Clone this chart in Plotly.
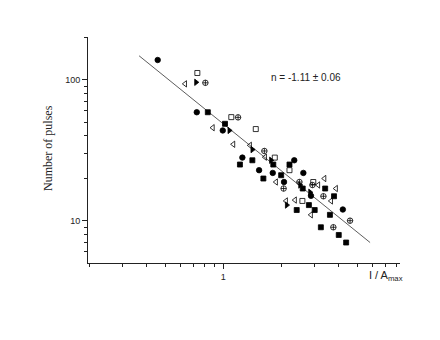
import plotly.graph_objects as go

# ---- data ----
circ_x = [0.455, 0.727, 0.993, 1.256, 2.34, 1.535, 1.808, 2.07, 2.61, 2.86, 4.19]
circ_y = [137.7, 58.7, 43.6, 28.0, 26.8, 22.8, 21.8, 18.8, 21.8, 15.0, 12.0]

sq_x = [0.830, 1.02, 1.22, 1.416, 1.82, 2.21, 1.616, 2.00, 2.59, 3.39, 3.77, 2.41, 2.79, 2.99, 3.59, 3.22, 3.99, 4.36]
sq_y = [58.7, 48.6, 25.0, 26.8, 25.0, 25.0, 19.9, 21.0, 16.9, 16.9, 14.9, 11.9, 12.9, 11.9, 11.0, 8.98, 7.92, 7.0]

osq_x = [0.732, 1.10, 1.475, 1.853, 2.21, 2.94, 2.58]
osq_y = [111.4, 54.2, 44.6, 28.0, 22.8, 18.8, 13.8]

tri_x = [0.632, 0.881, 1.127, 1.377, 1.649, 1.88, 3.36, 3.12, 3.86, 3.64, 2.12, 2.36, 2.86]
tri_y = [93.3, 45.6, 34.8, 34.2, 28.2, 18.8, 19.9, 17.9, 16.9, 13.8, 13.8, 14.0, 11.0]

ftri_x = [0.721, 1.075, 1.416, 1.771, 2.51, 2.83, 2.14]
ftri_y = [95.7, 43.6, 31.9, 26.8, 17.9, 15.9, 12.9]

cc_x = [0.806, 1.193, 1.635, 2.06, 2.49, 2.91, 3.32, 4.57, 3.74]
cc_y = [94.9, 54.0, 31.2, 16.9, 18.8, 17.9, 14.9, 10.0, 8.98]

fit_x = [0.364, 5.81]
fit_y = [147.5, 7.0]

x_major = [1]
x_minor = [0.2, 0.3, 0.4, 0.5, 0.6, 0.7, 0.8, 0.9, 2, 3, 4, 5, 6, 7, 8]
y_major = [10, 100]
y_minor = [6, 7, 8, 9, 20, 30, 40, 50, 60, 70, 80, 90, 200]

fit_label = "n = -1.11 \u00b1 0.06"

# page body has an 8px margin; plot area in screenshot: x 88..400, y 37..263
OFF = 8
L, R, T, B = 88 - OFF, 440 - 400 + OFF, 37 - OFF, 340 - 263 + OFF
PW, PH = 312, 226

fig = go.Figure()
fig.add_trace(go.Scatter(x=fit_x, y=fit_y, mode="lines",
                         line=dict(color="#333333", width=0.8), showlegend=False))

def add(xs, ys, sym, size):
    fig.add_trace(go.Scatter(x=xs, y=ys, mode="markers", showlegend=False,
                             marker=dict(symbol=sym, size=size, color="black",
                                         line=dict(color="black", width=0.8))))

add(circ_x, circ_y, "circle", 5.5)
add(sq_x, sq_y, "square", 5)
add(osq_x, osq_y, "square-open", 5)
add(tri_x, tri_y, "triangle-left-open", 5.5)
add(ftri_x, ftri_y, "triangle-right", 5.5)
add(cc_x, cc_y, "circle-cross-open", 5.5)

axis_common = dict(type="log", showgrid=False, zeroline=False, showline=True,
                   linecolor="#222222", linewidth=1, ticks="outside", ticklen=5,
                   tickwidth=1, tickcolor="#222222",
                   tickfont=dict(family="Liberation Sans, Arial", size=9, color="#222222"))

fig.update_layout(
    width=440, height=340,
    margin=dict(l=L, r=R, t=T, b=B),
    paper_bgcolor="white", plot_bgcolor="white",
    xaxis=dict(axis_common, range=[-0.705, 0.920], tickvals=x_major,
               ticktext=[str(v) for v in x_major],
               minor=dict(tickvals=x_minor, ticks="outside", ticklen=3, tickwidth=1,
                          tickcolor="#222222", showgrid=False)),
    yaxis=dict(axis_common, range=[0.700, 2.302], tickvals=y_major,
               ticktext=[str(v) for v in y_major],
               minor=dict(tickvals=y_minor, ticks="outside", ticklen=3, tickwidth=1,
                          tickcolor="#222222", showgrid=False)),
    annotations=[
        dict(text=fit_label, xref="paper", yref="paper", x=(306 - 88) / PW,
             y=(263 - 78) / PH, xanchor="center", yanchor="middle", showarrow=False,
             font=dict(family="Liberation Sans, Arial", size=10, color="#222222")),
        dict(text="I / A<sub>max</sub>", xref="paper", yref="paper", x=(367 - 88) / PW,
             y=(263 - 276) / PH, xanchor="left", yanchor="middle", showarrow=False,
             font=dict(family="Liberation Sans, Arial", size=11, color="#222222")),
        dict(text="Number of pulses", xref="paper", yref="paper", x=(48 - 88) / PW,
             y=(263 - 148) / PH, xanchor="center", yanchor="middle", showarrow=False,
             textangle=-90,
             font=dict(family="Liberation Serif, Times New Roman", size=12, color="#222222")),
    ],
)

fig.write_html("out.html")
